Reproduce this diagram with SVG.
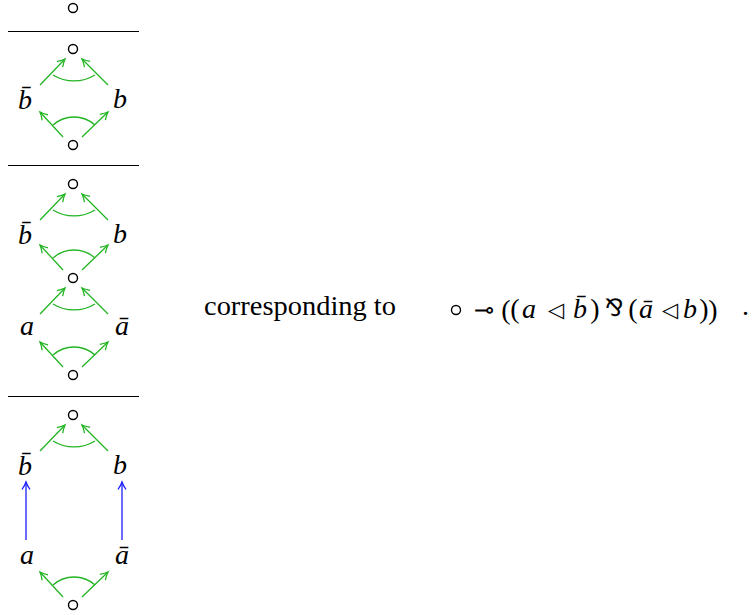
<svg xmlns="http://www.w3.org/2000/svg" width="756" height="615" viewBox="0 0 756 615">
<style>
.bg{fill:#ffffff}
.rule{stroke:#000;stroke-width:1}
.node{fill:none;stroke:#000;stroke-width:1.4}
.g{stroke:#22b422;stroke-width:1.3;fill:none}
.bl{stroke:#1c1cff;stroke-width:1.3;fill:none}
.lab{font-family:'Liberation Serif','Times New Roman',serif;font-style:italic;font-size:28px;fill:#000;text-anchor:middle}
.txt{font-family:'Liberation Serif','Times New Roman',serif;font-size:28px;fill:#000}
.sym{font-family:'DejaVu Sans',sans-serif;font-size:24px;fill:#000;text-anchor:middle}
.tri{font-family:'DejaVu Sans',sans-serif;font-size:21px;fill:#000;text-anchor:middle}
.par{font-family:'Liberation Serif','Times New Roman',serif;font-size:28px;fill:#000;text-anchor:middle}
</style>
<defs>
<marker id="ag" viewBox="-9 -6 10 12" refX="0" refY="0" markerWidth="10" markerHeight="12" markerUnits="userSpaceOnUse" orient="auto" overflow="visible">
<path d="M -7.5 -4 Q -3 -1 0 0 Q -3 1 -7.5 4" fill="none" stroke="#22b422" stroke-width="1.3"/>
</marker>
<marker id="ab" viewBox="-9 -6 10 12" refX="0" refY="0" markerWidth="10" markerHeight="12" markerUnits="userSpaceOnUse" orient="auto" overflow="visible">
<path d="M -7.5 -4 Q -3 -1 0 0 Q -3 1 -7.5 4" fill="none" stroke="#1c1cff" stroke-width="1.3"/>
</marker>
</defs>
<rect class="bg" x="0" y="0" width="756" height="615"/>

<g id="rules">
<line class="rule" x1="8" y1="31.5" x2="139" y2="31.5"/>
<line class="rule" x1="8" y1="165.5" x2="139" y2="165.5"/>
<line class="rule" x1="8" y1="396.5" x2="139" y2="396.5"/>
</g>

<g id="n0"><circle class="node" cx="73" cy="8" r="4.5"/></g>
<g id="n1"><circle class="node" cx="73" cy="49" r="4.5"/></g>
<g id="n2"><circle class="node" cx="73" cy="145" r="4.5"/></g>
<g id="l1b"><text class="lab" x="25" y="109">b̄</text></g>
<g id="l1r"><text class="lab" x="120" y="108">b</text></g>

<g id="n3"><circle class="node" cx="73" cy="184" r="4.5"/></g>
<g id="n4"><circle class="node" cx="73" cy="278" r="4.5"/></g>
<g id="n5"><circle class="node" cx="73" cy="375" r="4.5"/></g>
<g id="l2b"><text class="lab" x="25" y="244">b̄</text></g>
<g id="l2r"><text class="lab" x="120" y="243">b</text></g>
<g id="l2a"><text class="lab" x="27" y="335">a</text></g>
<g id="l2ab"><text class="lab" x="122" y="335">ā</text></g>

<g id="n6"><circle class="node" cx="73" cy="415" r="4.5"/></g>
<g id="n7"><circle class="node" cx="73" cy="605" r="4.5"/></g>
<g id="l3b"><text class="lab" x="25" y="475">b̄</text></g>
<g id="l3r"><text class="lab" x="120" y="474">b</text></g>
<g id="l3a"><text class="lab" x="27" y="564">a</text></g>
<g id="l3ab"><text class="lab" x="122" y="564">ā</text></g>

<g id="connectors">
<line class="g" x1="40" y1="85" x2="65" y2="59" marker-end="url(#ag)"/>
<line class="g" x1="108" y1="85" x2="82" y2="59" marker-end="url(#ag)"/>
<path class="g" d="M 53 75 A 40 40 0 0 0 95 75"/>
<line class="g" x1="63" y1="137" x2="40" y2="112" marker-end="url(#ag)"/>
<line class="g" x1="82" y1="137" x2="108" y2="112" marker-end="url(#ag)"/>
<path class="g" d="M 53 125 A 31.6 31.6 0 0 1 95 125"/>

<line class="g" x1="40" y1="220" x2="65" y2="194" marker-end="url(#ag)"/>
<line class="g" x1="108" y1="220" x2="82" y2="194" marker-end="url(#ag)"/>
<path class="g" d="M 53 210 A 40 40 0 0 0 95 210"/>
<line class="g" x1="63" y1="270" x2="40" y2="245" marker-end="url(#ag)"/>
<line class="g" x1="82" y1="270" x2="108" y2="245" marker-end="url(#ag)"/>
<path class="g" d="M 53 258 A 31.6 31.6 0 0 1 95 258"/>
<line class="g" x1="40" y1="314" x2="65" y2="288" marker-end="url(#ag)"/>
<line class="g" x1="108" y1="314" x2="82" y2="288" marker-end="url(#ag)"/>
<path class="g" d="M 53 304 A 40 40 0 0 0 95 304"/>
<line class="g" x1="63" y1="367" x2="40" y2="342" marker-end="url(#ag)"/>
<line class="g" x1="82" y1="367" x2="108" y2="342" marker-end="url(#ag)"/>
<path class="g" d="M 53 355 A 31.6 31.6 0 0 1 95 355"/>

<line class="g" x1="40" y1="451" x2="65" y2="425" marker-end="url(#ag)"/>
<line class="g" x1="108" y1="451" x2="82" y2="425" marker-end="url(#ag)"/>
<path class="g" d="M 53 441 A 40 40 0 0 0 95 441"/>
<line class="bl" x1="26" y1="540" x2="26" y2="482" marker-end="url(#ab)"/>
<line class="bl" x1="122" y1="540" x2="122" y2="482" marker-end="url(#ab)"/>
<line class="g" x1="63" y1="597" x2="40" y2="572" marker-end="url(#ag)"/>
<line class="g" x1="82" y1="597" x2="108" y2="572" marker-end="url(#ag)"/>
<path class="g" d="M 53 585 A 31.6 31.6 0 0 1 95 585"/>
</g>

<g id="caption">
<text class="txt" x="204" y="315" textLength="192" lengthAdjust="spacingAndGlyphs">corresponding to</text>
<circle class="node" cx="456" cy="310" r="4.5"/>
<text class="sym" x="484" y="318">⊸</text>
<text class="par" x="506" y="319" font-size="33">(</text>
<text class="par" x="515" y="318">(</text>
<text class="lab" x="529" y="318">a</text>
<text class="tri" x="556" y="317">◁</text>
<text class="lab" x="580" y="318">b̄</text>
<text class="par" x="595" y="318">)</text>
<text class="sym" x="614" y="316" font-size="18">⅋</text>
<text class="par" x="633" y="318">(</text>
<text class="lab" x="646" y="318">ā</text>
<text class="tri" x="670" y="317">◁</text>
<text class="lab" x="690" y="318">b</text>
<text class="par" x="704" y="318">)</text>
<text class="par" x="713" y="319" font-size="33">)</text>
<text class="txt" x="742" y="315">.</text>
</g>
</svg>
